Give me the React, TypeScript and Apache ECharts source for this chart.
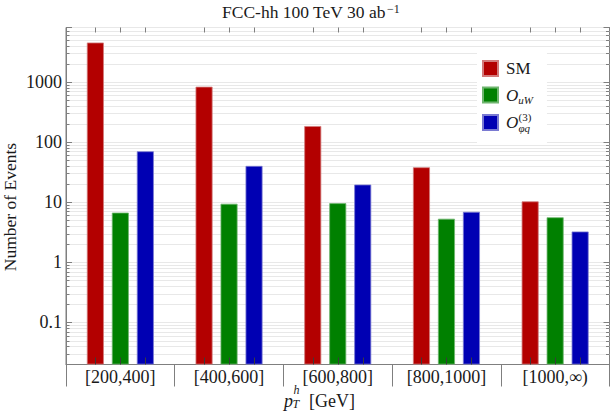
import React, { useEffect, useRef } from "react";
import * as echarts from "echarts";

const CATEGORIES = ["[200,400]", "[400,600]", "[600,800]", "[800,1000]", "[1000,∞)"];
const SM = [4500, 830, 184, 38, 10.3];
const O_UW = [6.7, 9.4, 9.6, 5.3, 5.6];
const O_PHIQ3 = [70, 40, 19.6, 6.9, 3.25];
const Y_MIN = 0.02;
const Y_MAX = 8000;
const DECADES = [0.01, 0.1, 1, 10, 100, 1000];
const MINOR_MULT = [2, 3, 4, 5, 6, 7, 8, 9];
const MINOR_TICKS = DECADES.flatMap((d) => MINOR_MULT.map((m) => +(d * m).toPrecision(3))).filter(
  (v) => v > Y_MIN && v < Y_MAX
);

const FONT = "Liberation Serif";
const AXIS_COLOR = "#7f7f7f";
const GRID_COLOR = "#e8e8e8";
const TEXT_COLOR = "#1a1a1a";
const BAR_WIDTH = 17;
const BAR_GAP = 0.47;
const COLORS = ["#b30000", "#008000", "#0000b3"];
const BORDERS = ["#d27a7a", "#6fb56f", "#7a7ad2"];

export default function App() {
  const ref = useRef<HTMLDivElement>(null);
  useEffect(() => {
    if (!ref.current) return;
    const chart = echarts.init(ref.current, null, { renderer: "svg" });
    const isPow10 = (v: number) => Math.abs(Math.log10(v) - Math.round(Math.log10(v))) < 1e-6;
    const barSeries = (name: string, data: number[], i: number) => ({
      name,
      type: "bar",
      data,
      barWidth: BAR_WIDTH,
      barGap: BAR_GAP * 100 + "%",
      itemStyle: { color: COLORS[i], borderColor: BORDERS[i], borderWidth: 0.8 },
      z: 3,
    });
    const yAxisBase = {
      type: "log",
      logBase: 10,
      min: Y_MIN,
      max: Y_MAX,
      startValue: Y_MIN,
      axisLine: { show: true, lineStyle: { color: AXIS_COLOR, width: 1 } },
      axisTick: { show: true, inside: true, length: 6, lineStyle: { color: AXIS_COLOR } },
    };
    const txt = (text: string, x: number, y: number, font: string, extra: any = {}) => ({
      type: "text",
      x,
      y,
      z: 100,
      ...extra,
      style: { text, font, fill: TEXT_COLOR, align: "left", verticalAlign: "middle", ...(extra.style || {}) },
    });
    chart.setOption({
      animation: false,
      backgroundColor: "#ffffff",
      title: {
        text: "{a|FCC-hh 100 TeV 30 ab}{s|−1}",
        left: 222,
        top: 2,
        padding: 0,
        textStyle: {
          fontWeight: "normal",
          rich: {
            a: { fontFamily: FONT, fontSize: 17.5, fontWeight: "normal", lineHeight: 20, color: TEXT_COLOR },
            s: { fontFamily: FONT, fontSize: 12, fontWeight: "normal", lineHeight: 12, padding: [1, 0, 0, 1], verticalAlign: "top", color: TEXT_COLOR },
          },
        },
      },
      grid: {
        left: 66,
        right: 5.5,
        top: 27.5,
        bottom: 52.5,
        show: true,
        borderColor: AXIS_COLOR,
        borderWidth: 1,
        backgroundColor: "transparent",
      },
      legend: {
        orient: "vertical",
        left: 477,
        top: 52,
        data: ["SM", "OuW", "Oφq(3)"],
        icon: "rect",
        itemWidth: 15,
        itemHeight: 15,
        itemGap: 9,
        backgroundColor: "#ffffff",
        padding: [8, 14, 14, 5],
        textStyle: {
          fontFamily: FONT,
          color: TEXT_COLOR,
          rich: {
            t: { fontFamily: FONT, fontSize: 17, lineHeight: 18, padding: [0, 0, 0, 3], color: TEXT_COLOR },
            o: { fontFamily: FONT, fontSize: 17, fontStyle: "italic", lineHeight: 18, padding: [0, 0, 0, 3], color: TEXT_COLOR },
            s: { fontFamily: FONT, fontSize: 11, fontStyle: "italic", lineHeight: 11, padding: [8, 0, 0, 0], verticalAlign: "top", color: TEXT_COLOR },
          },
        },
        formatter: (name: string) => {
          if (name === "SM") return "{t|SM}";
          if (name === "OuW") return "{o|O}{s|uW}";
          return "{o|O}";
        },
      },
      xAxis: {
        type: "category",
        data: CATEGORIES,
        axisLine: { show: true, lineStyle: { color: AXIS_COLOR, width: 1 } },
        axisTick: { show: true, inside: false, length: 22, alignWithLabel: false, lineStyle: { color: AXIS_COLOR } },
        axisLabel: { fontFamily: FONT, fontSize: 18, color: TEXT_COLOR, margin: 3 },
        splitLine: { show: false },
      },
      yAxis: [
        {
          ...yAxisBase,
          position: "left",
          axisLabel: {
            fontFamily: FONT,
            fontSize: 18,
            color: TEXT_COLOR,
            margin: 4,
            formatter: (v: number) => (isPow10(v) ? String(v) : ""),
          },
          splitLine: { show: true, lineStyle: { color: GRID_COLOR, width: 1 } },
        },
        {
          ...yAxisBase,
          position: "right",
          axisLabel: { show: false },
          splitLine: { show: false },
        },
      ],
      graphic: [
        txt("Number of Events", 10, 207, `17.5px "${FONT}"`, { rotation: Math.PI / 2, style: { align: "center" } }),
        txt("p", 284, 401, `italic 18px "${FONT}"`),
        txt("h", 293.5, 389.5, `italic 12px "${FONT}"`),
        txt("T", 292.5, 404, `italic 12px "${FONT}"`),
        txt("[GeV]", 309, 401, `18px "${FONT}"`),
        txt("(3)", 518.5, 116.5, `11px "${FONT}"`),
        txt("φq", 518.5, 127.5, `italic 11px "${FONT}"`),
      ],
      series: [
        barSeries("SM", SM, 0),
        barSeries("OuW", O_UW, 1),
        barSeries("Oφq(3)", O_PHIQ3, 2),
        {
          type: "custom",
          name: "minor",
          silent: true,
          z: 1,
          xAxisIndex: 0,
          yAxisIndex: 0,
          data: MINOR_TICKS.map((v) => [0, v]),
          renderItem: (params: any, api: any) => {
            const cs = params.coordSys;
            const y = Math.round(api.coord([0, api.value(1)])[1]) + 0.5;
            return {
              type: "group",
              children: [
                { type: "line", shape: { x1: cs.x, y1: y, x2: cs.x + cs.width, y2: y }, style: { stroke: GRID_COLOR, lineWidth: 1 } },
                { type: "line", shape: { x1: cs.x, y1: y, x2: cs.x + 3.5, y2: y }, style: { stroke: AXIS_COLOR, lineWidth: 1 } },
                { type: "line", shape: { x1: cs.x + cs.width - 3.5, y1: y, x2: cs.x + cs.width, y2: y }, style: { stroke: AXIS_COLOR, lineWidth: 1 } },
              ],
            };
          },
        },
        {
          type: "custom",
          name: "barticks",
          silent: true,
          z: 5,
          xAxisIndex: 0,
          yAxisIndex: 0,
          data: CATEGORIES.map((_, i) => [i, 1]),
          renderItem: (params: any, api: any) => {
            const cs = params.coordSys;
            const cx = api.coord([api.value(0), 1])[0];
            const step = BAR_WIDTH * (1 + BAR_GAP);
            const children: any[] = [];
            [-step, 0, step].forEach((o) => {
              const x = Math.round(cx + o) + 0.5;
              children.push({ type: "line", shape: { x1: x, y1: cs.y, x2: x, y2: cs.y + 5 }, style: { stroke: AXIS_COLOR, lineWidth: 1 } });
              children.push({ type: "line", shape: { x1: x, y1: cs.y + cs.height - 7, x2: x, y2: cs.y + cs.height }, style: { stroke: "#3a3a3a", lineWidth: 1 } });
            });
            return { type: "group", children };
          },
        },
      ],
    });
    return () => chart.dispose();
  }, []);
  return <div ref={ref} style={{ position: "fixed", left: 0, top: 0, width: 615, height: 417 }} />;
}
